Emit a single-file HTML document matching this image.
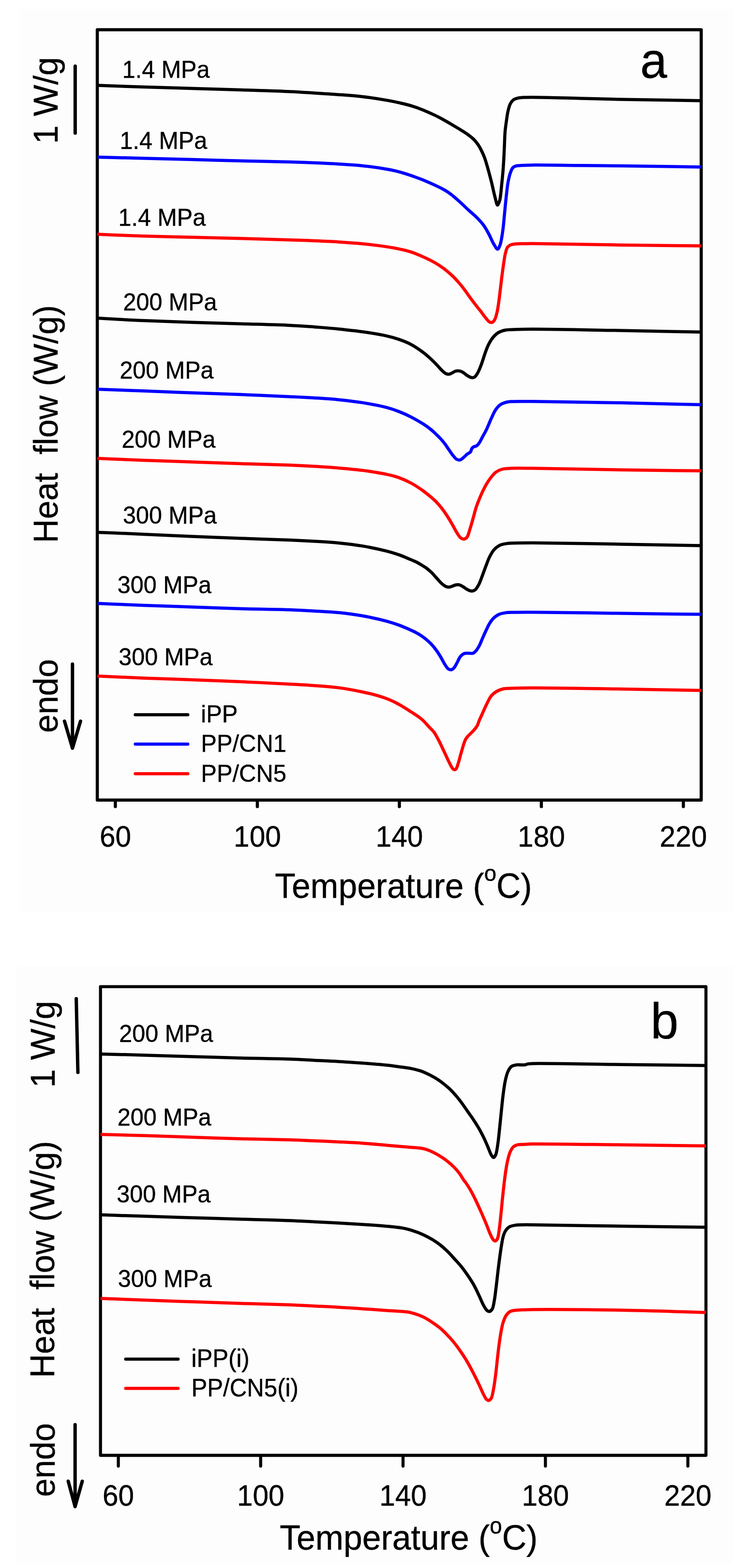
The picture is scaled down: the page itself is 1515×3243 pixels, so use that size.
<!DOCTYPE html>
<html><head><meta charset="utf-8"><title>DSC heating curves</title>
<style>html,body{margin:0;padding:0;background:#fff;}svg{display:block;}text{font-family:'Liberation Sans', Arial, Helvetica, sans-serif;fill:#000;stroke:#000;stroke-width:0.45px;}</style>
</head><body>
<svg width="1515" height="3243" viewBox="0 0 1515 3243">
<rect x="0" y="0" width="1515" height="3243" fill="#ffffff"/>
<rect x="41.5" y="18.7" width="1473.5" height="1866.3" fill="#fdfdfd"/>
<rect x="34.6" y="1999" width="1480.4" height="1235.3" fill="#fdfdfd"/>
<g fill="none" stroke="#000" stroke-width="6.5" stroke-linejoin="round" stroke-linecap="round"><rect x="201.1" y="61.6" width="1248.2" height="1593.2"/><line x1="238.4" y1="1658.1" x2="238.4" y2="1668.3"/><line x1="531.9" y1="1658.1" x2="531.9" y2="1668.3"/><line x1="825.4" y1="1658.1" x2="825.4" y2="1668.3"/><line x1="1118.9" y1="1658.1" x2="1118.9" y2="1668.3"/><line x1="1412.4" y1="1658.1" x2="1412.4" y2="1668.3"/></g>
<g fill="none" stroke="#000" stroke-width="6.3" stroke-linejoin="round" stroke-linecap="round"><rect x="207.7" y="2040.6" width="1251.4" height="969.4"/><line x1="244.6" y1="3013.3" x2="244.6" y2="3032.3"/><line x1="538.7" y1="3013.3" x2="538.7" y2="3032.3"/><line x1="833.0" y1="3013.3" x2="833.0" y2="3032.3"/><line x1="1127.3" y1="3013.3" x2="1127.3" y2="3032.3"/><line x1="1421.7" y1="3013.3" x2="1421.7" y2="3032.3"/></g>
<g fill="none" stroke-width="6.5" stroke-linejoin="round" stroke-linecap="butt">
<path stroke="#000" d="M201.1 176.5 C234.1 177.7 266.9 178.9 300.0 180.0 C333.2 181.1 366.7 182.0 400.0 183.0 C433.3 184.0 466.7 184.9 500.0 186.0 C533.3 187.1 572.4 188.2 600.0 189.5 C619.5 190.4 633.3 191.4 649.9 192.4 C666.5 193.4 683.2 194.4 699.8 195.7 C716.4 196.9 733.0 198.0 749.6 199.9 C766.3 201.9 785.8 205.0 799.5 207.4 C809.3 209.1 816.1 210.5 824.4 212.4 C832.7 214.3 841.1 216.1 849.4 218.6 C857.8 221.1 866.1 224.1 874.3 227.4 C882.4 230.7 890.9 234.6 898.3 238.2 C904.9 241.4 910.5 244.4 916.6 247.7 C922.7 251.1 928.8 254.7 934.9 258.3 C941.0 261.9 947.5 265.6 953.2 269.2 C958.4 272.4 963.4 275.5 967.8 278.8 C971.8 281.8 975.4 284.5 978.8 287.9 C982.1 291.2 985.2 295.0 987.9 298.9 C990.7 302.9 993.0 307.2 995.2 311.7 C997.5 316.3 999.6 320.9 1001.6 326.3 C1004.0 332.8 1006.1 340.5 1008.3 348.3 C1010.8 356.9 1013.2 366.3 1015.6 375.7 C1018.1 385.7 1020.5 398.0 1022.9 406.8 C1024.7 413.5 1026.5 424.1 1028.4 424.2 C1029.9 424.3 1031.7 418.5 1032.9 414.1 C1034.9 407.0 1035.5 394.5 1036.6 384.9 C1037.6 375.6 1038.5 366.6 1039.3 357.4 C1040.1 348.3 1040.7 338.9 1041.2 330.0 C1041.7 321.5 1042.0 313.9 1042.4 305.0 C1042.9 294.6 1043.1 281.4 1044.0 271.4 C1044.7 263.3 1045.8 256.6 1046.8 249.5 C1047.8 242.6 1048.6 235.5 1050.1 229.4 C1051.4 224.1 1052.6 218.7 1054.7 214.7 C1056.4 211.4 1058.5 208.5 1061.1 206.5 C1063.7 204.6 1067.0 203.7 1070.2 202.9 C1073.6 202.0 1077.0 201.9 1081.2 201.6 C1086.6 201.2 1091.3 201.2 1100.0 201.2 C1120.2 201.2 1168.6 202.8 1200.0 203.5 C1228.0 204.2 1248.0 204.8 1279.5 205.4 C1325.5 206.3 1392.7 207.3 1449.3 208.3"/>
<path stroke="#0000ff" d="M201.1 325.0 C234.1 325.8 266.9 326.7 300.0 327.5 C333.2 328.3 366.7 329.1 400.0 330.0 C433.3 330.9 466.7 332.0 500.0 332.8 C533.3 333.6 572.4 334.2 600.0 335.0 C619.5 335.5 633.3 336.0 649.9 336.7 C666.5 337.4 683.2 338.2 699.8 339.2 C716.4 340.2 733.0 341.1 749.6 342.9 C766.4 344.7 787.0 347.7 800.0 350.0 C808.2 351.4 813.4 352.6 820.0 354.2 C826.7 355.9 833.3 357.8 839.9 359.9 C846.6 362.0 853.3 364.3 859.9 366.7 C866.6 369.1 873.2 371.6 879.8 374.4 C886.5 377.2 893.4 380.3 899.8 383.4 C906.0 386.3 912.2 389.3 917.7 392.4 C922.7 395.2 926.6 397.7 931.4 401.3 C937.2 405.6 943.7 411.5 949.7 416.9 C955.9 422.4 961.9 428.5 968.0 434.2 C974.1 439.8 980.9 445.2 986.3 450.7 C991.1 455.6 995.2 460.0 999.1 465.3 C1003.2 470.9 1006.6 477.1 1010.1 483.6 C1013.9 490.5 1017.4 499.9 1021.0 505.6 C1023.5 509.6 1026.2 515.4 1028.4 515.3 C1030.5 515.2 1032.3 509.9 1033.9 505.6 C1036.4 498.6 1037.8 486.6 1039.3 476.3 C1040.9 464.8 1041.8 451.9 1043.0 439.7 C1044.2 427.5 1045.4 414.5 1046.7 403.2 C1047.8 393.4 1048.7 383.9 1050.3 375.7 C1051.6 368.9 1053.0 362.6 1054.9 357.4 C1056.4 353.3 1057.8 349.2 1060.0 346.8 C1061.7 345.0 1063.5 344.1 1066.0 343.3 C1069.6 342.1 1075.0 342.3 1080.0 342.0 C1085.9 341.6 1090.4 341.5 1099.3 341.4 C1119.6 341.2 1167.5 341.9 1199.0 342.2 C1227.3 342.5 1247.7 342.6 1279.5 343.0 C1325.7 343.6 1392.7 344.6 1449.3 345.4"/>
<path stroke="#ff0000" d="M201.1 484.6 C232.9 485.8 264.1 487.2 296.4 488.2 C329.7 489.2 364.0 489.9 397.8 490.7 C431.6 491.5 465.5 492.3 499.3 493.2 C532.9 494.1 572.3 495.3 600.0 496.2 C619.5 496.8 633.3 497.3 649.9 498.0 C666.5 498.7 683.2 499.4 699.8 500.4 C716.4 501.4 733.0 502.5 749.6 504.2 C766.2 505.9 785.8 508.3 799.5 510.4 C809.3 511.9 816.1 513.1 824.4 514.9 C832.8 516.7 841.2 518.4 849.4 521.1 C857.8 523.8 866.1 527.4 874.3 531.1 C882.4 534.7 891.0 538.8 898.3 543.0 C904.9 546.8 910.6 550.5 916.6 554.9 C922.9 559.6 929.3 565.1 934.9 570.4 C940.2 575.4 945.1 580.9 949.5 586.0 C953.5 590.6 956.9 594.9 960.5 599.7 C964.2 604.7 967.7 610.1 971.4 615.2 C975.0 620.2 978.7 625.0 982.4 629.8 C986.0 634.5 989.8 638.9 993.4 643.6 C997.1 648.4 1001.0 654.2 1004.4 658.2 C1007.0 661.2 1009.2 664.5 1011.7 665.8 C1013.5 666.8 1015.5 667.4 1017.2 666.8 C1019.2 666.1 1021.1 663.5 1022.6 660.9 C1024.7 657.3 1025.9 651.7 1027.2 646.3 C1028.8 639.8 1029.8 632.2 1030.9 624.4 C1032.2 615.4 1033.3 604.5 1034.5 595.1 C1035.6 586.3 1036.5 577.9 1037.6 569.5 C1038.6 561.4 1039.7 553.5 1040.9 545.7 C1042.0 538.2 1043.0 530.1 1044.6 523.8 C1045.9 518.9 1046.9 514.0 1049.2 511.0 C1050.9 508.7 1053.1 507.5 1055.6 506.4 C1058.3 505.2 1061.2 505.0 1064.7 504.6 C1069.4 504.1 1075.5 504.1 1081.2 504.0 C1087.3 503.9 1090.5 503.8 1100.0 503.8 C1129.3 503.9 1220.5 505.9 1279.5 506.7 C1336.9 507.5 1392.7 507.9 1449.3 508.5"/>
<path stroke="#000" d="M201.1 658.0 C232.9 659.7 264.1 661.7 296.4 663.1 C329.7 664.6 364.0 665.6 397.8 666.7 C431.6 667.8 465.5 668.7 499.3 669.7 C532.9 670.7 572.3 671.5 600.0 672.9 C619.5 673.9 633.3 675.0 649.9 676.2 C666.5 677.5 683.2 678.7 699.8 680.4 C716.4 682.1 733.0 683.8 749.6 686.2 C766.3 688.6 785.8 691.8 799.5 694.9 C809.3 697.1 816.2 699.0 824.4 701.9 C832.8 704.8 841.3 708.0 849.4 712.3 C857.9 716.8 867.0 723.1 874.3 728.6 C880.6 733.3 886.1 738.3 891.0 742.8 C895.1 746.6 898.3 750.0 901.9 753.7 C905.6 757.5 909.3 762.2 912.9 765.6 C916.0 768.5 919.1 771.6 922.1 772.9 C924.3 773.8 926.4 774.1 928.5 773.8 C930.7 773.5 932.7 772.1 934.9 771.1 C937.3 770.0 939.6 768.0 942.2 767.4 C944.8 766.8 947.9 766.9 950.4 767.4 C952.7 767.9 954.5 768.9 956.8 770.2 C959.7 771.8 962.8 775.0 966.0 776.9 C969.0 778.6 972.3 780.9 975.1 781.1 C977.4 781.3 979.6 780.7 981.5 779.3 C984.0 777.5 985.9 773.9 987.9 770.2 C990.5 765.4 992.9 759.0 995.2 752.8 C997.8 745.9 1000.0 737.8 1002.5 730.8 C1004.8 724.4 1006.9 718.1 1009.8 712.5 C1012.5 707.2 1015.5 702.1 1019.0 697.9 C1022.3 694.0 1025.8 690.4 1030.0 687.9 C1034.3 685.3 1039.4 683.8 1044.6 682.7 C1050.3 681.5 1055.7 681.8 1062.9 681.5 C1073.1 681.1 1083.0 680.8 1100.0 680.8 C1137.4 680.7 1220.5 682.5 1279.5 683.5 C1336.9 684.5 1392.7 685.7 1449.3 686.8"/>
<path stroke="#0000ff" d="M201.1 804.9 C232.9 806.1 264.1 807.3 296.4 808.5 C329.7 809.8 364.0 811.2 397.8 812.5 C431.6 813.8 465.5 814.8 499.3 816.1 C532.9 817.4 572.3 819.1 600.0 820.4 C619.5 821.3 633.3 821.9 649.9 822.9 C666.5 824.0 683.2 825.0 699.8 826.7 C716.4 828.4 733.0 830.2 749.6 832.9 C766.3 835.6 785.8 839.3 799.5 842.9 C809.3 845.5 816.2 847.9 824.4 851.1 C832.8 854.4 841.2 858.1 849.4 862.3 C857.8 866.6 866.9 871.9 874.3 876.6 C880.5 880.6 886.4 884.9 891.0 888.6 C894.6 891.5 897.0 893.9 900.1 896.8 C903.4 900.0 907.0 903.4 910.2 906.9 C913.4 910.4 916.4 914.0 919.3 917.8 C922.2 921.6 924.7 925.7 927.5 929.7 C930.5 933.9 933.7 938.9 936.7 942.5 C939.2 945.4 941.4 948.6 944.0 950.0 C946.0 951.1 948.5 951.6 950.4 951.3 C952.1 951.1 953.5 950.0 955.0 948.9 C956.8 947.6 958.7 945.7 960.5 944.0 C962.3 942.3 964.0 940.4 966.0 938.9 C968.0 937.4 970.9 936.7 972.4 934.8 C973.9 933.0 973.9 929.7 975.1 927.9 C976.1 926.3 977.3 925.2 978.8 924.2 C980.5 923.1 983.3 923.3 985.2 922.0 C987.3 920.6 988.9 918.5 990.6 916.0 C992.8 912.8 994.7 908.4 997.0 904.1 C999.8 898.9 1003.3 892.9 1006.2 886.8 C1009.4 880.2 1012.2 872.4 1015.3 865.7 C1018.3 859.3 1021.1 852.4 1024.5 847.4 C1027.3 843.3 1030.1 839.9 1033.6 837.4 C1036.9 835.0 1040.9 833.5 1044.6 832.4 C1048.2 831.3 1050.7 831.0 1055.6 830.6 C1065.4 829.8 1080.2 830.2 1100.0 830.3 C1139.7 830.5 1220.5 832.0 1279.5 833.1 C1336.9 834.2 1392.7 835.7 1449.3 837.0"/>
<path stroke="#ff0000" d="M201.1 947.9 C232.9 949.3 264.1 950.7 296.4 952.0 C329.7 953.3 364.0 954.3 397.8 955.5 C431.6 956.7 465.5 958.0 499.3 959.1 C532.9 960.2 572.3 960.9 600.0 962.0 C619.5 962.8 633.3 963.5 649.9 964.5 C666.5 965.5 683.2 966.5 699.8 967.9 C716.4 969.3 733.0 970.7 749.6 972.9 C766.3 975.1 785.8 978.2 799.5 981.2 C809.3 983.3 816.2 985.0 824.4 987.9 C832.8 990.9 841.2 994.6 849.4 999.0 C857.9 1003.6 866.9 1009.7 874.3 1015.0 C880.5 1019.5 886.1 1024.0 891.0 1028.2 C895.1 1031.7 898.4 1034.5 901.9 1038.2 C905.7 1042.1 909.3 1046.4 912.9 1051.0 C916.7 1055.9 920.3 1061.1 923.9 1066.6 C927.7 1072.4 931.5 1078.8 934.9 1084.8 C938.1 1090.4 940.9 1096.4 944.0 1101.3 C946.7 1105.5 949.3 1110.3 952.2 1112.5 C954.2 1114.1 956.5 1115.1 958.6 1115.0 C960.8 1114.8 963.2 1113.5 965.0 1111.4 C967.9 1108.0 969.4 1100.2 971.4 1094.0 C973.7 1087.1 975.7 1079.4 977.8 1072.0 C980.0 1064.5 981.8 1056.4 984.2 1049.2 C986.4 1042.5 988.9 1036.4 991.6 1030.0 C994.4 1023.3 997.3 1016.3 1000.7 1009.9 C1004.0 1003.6 1007.6 997.2 1011.7 991.6 C1015.6 986.2 1019.8 980.5 1024.5 976.9 C1028.5 973.8 1032.6 971.9 1037.3 970.5 C1042.3 969.0 1046.8 969.1 1053.7 968.7 C1065.2 968.0 1079.5 968.4 1100.0 968.5 C1140.3 968.8 1220.5 970.8 1279.5 971.7 C1336.9 972.6 1392.7 973.1 1449.3 973.8"/>
<path stroke="#000" d="M201.1 1100.9 C232.9 1102.2 264.1 1103.5 296.4 1104.9 C329.7 1106.4 364.0 1108.1 397.8 1109.5 C431.6 1110.9 465.5 1112.2 499.3 1113.5 C532.9 1114.7 572.3 1115.8 600.0 1117.0 C619.5 1117.8 633.3 1118.5 649.9 1119.5 C666.5 1120.5 683.2 1121.3 699.8 1122.9 C716.4 1124.6 733.0 1126.6 749.6 1129.4 C766.3 1132.2 785.8 1136.4 799.5 1139.9 C809.3 1142.4 816.6 1144.7 824.4 1147.4 C831.5 1149.9 838.0 1152.7 844.4 1155.4 C850.4 1157.9 856.6 1160.3 861.8 1163.0 C866.4 1165.4 870.9 1168.5 874.3 1170.5 C876.6 1171.9 877.9 1172.5 880.0 1174.0 C883.1 1176.3 887.4 1179.8 891.0 1183.2 C894.8 1186.8 898.3 1191.1 901.9 1195.0 C905.6 1199.0 909.2 1203.7 912.9 1206.9 C916.0 1209.6 919.2 1212.2 922.1 1213.3 C924.3 1214.2 926.4 1214.3 928.5 1214.2 C930.6 1214.1 932.7 1213.1 934.9 1212.4 C937.3 1211.6 939.7 1210.1 942.2 1209.7 C944.6 1209.3 947.1 1209.1 949.5 1209.7 C952.0 1210.3 954.3 1211.8 956.8 1213.3 C959.7 1215.0 962.8 1217.8 966.0 1219.4 C969.0 1220.9 972.2 1222.6 975.1 1222.5 C977.7 1222.5 980.2 1221.4 982.4 1219.7 C985.2 1217.4 987.5 1213.0 989.7 1208.8 C992.4 1203.6 994.6 1196.8 997.0 1190.5 C999.5 1184.0 1001.9 1176.9 1004.4 1170.4 C1006.8 1164.1 1008.9 1157.8 1011.7 1152.1 C1014.4 1146.8 1017.2 1141.5 1020.8 1137.4 C1024.0 1133.7 1027.8 1130.4 1031.8 1128.3 C1035.7 1126.2 1039.9 1125.4 1044.6 1124.6 C1050.1 1123.6 1055.7 1123.5 1062.9 1123.2 C1073.1 1122.8 1083.0 1122.8 1100.0 1122.8 C1137.4 1122.9 1220.5 1124.5 1279.5 1125.5 C1336.9 1126.4 1392.7 1127.5 1449.3 1128.5"/>
<path stroke="#0000ff" d="M201.1 1247.9 C232.9 1249.3 264.1 1250.7 296.4 1252.0 C329.7 1253.3 364.0 1254.3 397.8 1255.5 C431.6 1256.7 465.5 1258.1 499.3 1259.1 C532.9 1260.0 572.3 1260.2 600.0 1261.2 C619.5 1261.9 633.3 1262.7 649.9 1263.7 C666.5 1264.7 683.2 1265.3 699.8 1267.0 C716.4 1268.7 733.1 1270.7 749.6 1273.7 C766.3 1276.7 785.8 1281.2 799.5 1284.9 C809.3 1287.6 816.6 1290.1 824.4 1292.9 C831.5 1295.5 838.0 1298.3 844.4 1301.1 C850.4 1303.8 856.6 1306.4 861.8 1309.3 C866.4 1311.8 871.0 1314.9 874.3 1317.3 C876.6 1319.0 877.8 1320.0 880.0 1321.8 C883.1 1324.4 887.5 1328.1 891.0 1331.8 C894.8 1335.8 898.5 1340.4 901.9 1345.0 C905.2 1349.6 908.2 1354.4 911.1 1359.2 C914.0 1364.0 916.5 1369.6 919.3 1373.9 C921.7 1377.5 923.9 1381.7 926.6 1383.5 C928.6 1384.8 931.0 1385.6 933.0 1385.2 C935.0 1384.8 936.8 1383.1 938.5 1381.2 C940.8 1378.6 942.8 1374.0 944.9 1370.2 C947.1 1366.3 948.8 1361.5 951.3 1358.3 C953.4 1355.6 955.8 1353.1 958.6 1351.9 C961.3 1350.7 964.7 1351.2 967.8 1351.0 C971.1 1350.8 975.0 1352.0 977.8 1351.0 C980.4 1350.0 982.2 1347.8 984.2 1345.5 C986.5 1342.8 988.6 1339.2 990.6 1335.5 C992.9 1331.2 994.8 1325.8 997.0 1320.8 C999.4 1315.5 1001.9 1309.7 1004.4 1304.4 C1006.8 1299.3 1008.9 1294.2 1011.7 1289.7 C1014.4 1285.4 1017.3 1281.2 1020.8 1277.9 C1024.1 1274.8 1027.8 1272.3 1031.8 1270.5 C1035.8 1268.8 1039.9 1268.1 1044.6 1267.4 C1050.1 1266.6 1055.7 1266.7 1062.9 1266.5 C1073.1 1266.2 1083.0 1266.2 1100.0 1266.3 C1137.4 1266.4 1220.5 1267.8 1279.5 1268.5 C1336.9 1269.2 1392.7 1269.9 1449.3 1270.6"/>
<path stroke="#ff0000" d="M201.1 1398.3 C232.9 1399.7 264.1 1401.1 296.4 1402.4 C329.7 1403.7 364.0 1404.6 397.8 1405.9 C431.6 1407.2 465.5 1408.5 499.3 1410.0 C532.9 1411.5 572.3 1413.5 600.0 1415.0 C619.5 1416.1 633.3 1416.8 649.9 1418.0 C666.5 1419.2 683.2 1420.2 699.8 1422.4 C716.5 1424.6 735.1 1428.2 749.6 1431.2 C761.0 1433.6 770.6 1435.9 780.0 1438.6 C788.3 1441.0 795.6 1443.4 803.3 1446.5 C811.1 1449.7 818.9 1453.6 826.5 1457.8 C834.4 1462.2 842.3 1467.5 849.8 1472.4 C857.0 1477.2 864.5 1481.5 870.8 1486.9 C876.9 1492.0 882.3 1498.7 887.1 1503.8 C891.0 1507.9 894.7 1511.2 897.5 1515.0 C899.9 1518.3 901.4 1521.5 903.3 1524.9 C905.3 1528.4 907.2 1531.9 909.1 1535.7 C911.1 1539.7 913.0 1544.0 914.9 1548.2 C916.9 1552.4 918.8 1556.5 920.8 1560.7 C922.7 1564.9 924.7 1569.3 926.6 1573.2 C928.3 1576.7 930.0 1580.2 931.6 1583.1 C933.0 1585.6 934.3 1588.3 935.7 1589.8 C936.6 1590.8 937.5 1591.7 938.6 1591.9 C939.7 1592.1 941.3 1591.6 942.4 1590.6 C943.9 1589.2 944.7 1585.9 945.7 1583.1 C946.9 1579.9 947.9 1576.0 949.0 1572.3 C950.1 1568.3 951.2 1564.0 952.3 1559.9 C953.4 1555.9 954.6 1552.0 955.7 1548.2 C956.8 1544.5 957.8 1540.7 959.0 1537.4 C960.0 1534.4 961.0 1531.5 962.3 1529.1 C963.5 1526.9 964.9 1525.2 966.5 1523.3 C968.2 1521.3 970.4 1519.4 972.3 1517.5 C974.2 1515.5 976.3 1513.6 978.1 1511.6 C979.9 1509.7 981.6 1507.8 983.1 1505.8 C984.5 1503.9 985.7 1502.1 986.8 1500.0 C988.0 1497.7 988.5 1495.3 989.7 1492.3 C991.5 1487.8 994.4 1481.6 997.0 1475.8 C999.9 1469.4 1003.0 1462.0 1006.2 1455.7 C1009.1 1449.9 1011.6 1443.7 1015.3 1439.3 C1018.5 1435.4 1022.3 1432.5 1026.3 1430.1 C1030.2 1427.8 1034.6 1426.1 1039.1 1425.0 C1043.7 1423.9 1047.5 1424.0 1053.7 1423.7 C1064.8 1423.1 1079.5 1422.9 1100.0 1422.8 C1140.3 1422.7 1220.5 1424.1 1279.5 1425.0 C1336.9 1425.9 1392.7 1427.0 1449.3 1428.0"/>
<path stroke="#000" d="M207.7 2179.9 C238.9 2180.7 269.6 2181.5 301.4 2182.4 C334.5 2183.3 369.0 2184.5 402.8 2185.5 C436.6 2186.5 471.0 2187.7 504.3 2188.5 C536.7 2189.3 573.3 2189.6 600.0 2190.5 C619.3 2191.2 633.3 2192.2 649.9 2193.0 C666.5 2193.8 683.2 2194.4 699.8 2195.4 C716.4 2196.3 733.0 2197.5 749.6 2198.7 C766.2 2200.0 785.7 2201.4 799.5 2202.9 C809.2 2204.0 816.1 2205.0 824.4 2206.2 C832.7 2207.4 841.6 2208.3 849.4 2209.9 C856.4 2211.3 863.7 2213.1 869.3 2214.9 C873.5 2216.3 876.4 2217.7 880.0 2219.3 C883.7 2221.0 887.2 2222.7 891.0 2224.7 C895.1 2226.9 899.6 2229.4 903.8 2232.1 C908.1 2234.9 912.4 2237.9 916.6 2241.2 C920.9 2244.6 925.2 2248.2 929.4 2252.2 C933.8 2256.4 938.2 2261.3 942.2 2265.9 C946.1 2270.4 949.5 2274.6 953.2 2279.6 C957.4 2285.2 961.7 2291.8 966.0 2297.9 C970.3 2304.0 974.8 2310.1 978.8 2316.2 C982.7 2322.0 986.3 2327.7 989.7 2333.6 C993.0 2339.3 995.9 2344.9 998.9 2350.9 C1002.1 2357.3 1005.2 2364.6 1008.0 2371.1 C1010.6 2377.1 1012.8 2384.4 1015.3 2388.5 C1016.8 2391.0 1018.4 2394.0 1019.9 2394.0 C1021.4 2394.0 1023.2 2391.2 1024.5 2388.5 C1026.8 2383.6 1027.7 2374.0 1029.0 2365.6 C1030.5 2355.6 1031.5 2343.9 1032.7 2332.6 C1034.0 2320.7 1035.2 2307.9 1036.4 2296.1 C1037.6 2284.8 1038.6 2273.8 1040.0 2263.2 C1041.3 2253.1 1042.7 2242.5 1044.6 2233.9 C1046.2 2227.0 1047.6 2220.6 1050.1 2215.6 C1052.1 2211.5 1054.3 2207.7 1057.4 2205.5 C1060.4 2203.4 1064.3 2203.0 1068.4 2202.4 C1073.3 2201.7 1080.8 2203.0 1084.8 2202.4 C1087.2 2202.0 1088.2 2201.0 1090.3 2200.6 C1093.1 2200.0 1094.7 2199.9 1100.0 2199.7 C1122.9 2198.8 1223.9 2201.0 1284.6 2201.7 C1343.6 2202.4 1400.9 2203.1 1459.1 2203.8"/>
<path stroke="#ff0000" d="M207.7 2346.2 C238.9 2347.1 269.6 2347.8 301.4 2348.8 C334.5 2349.8 369.0 2351.2 402.8 2352.3 C436.6 2353.4 471.0 2354.5 504.3 2355.4 C536.7 2356.2 573.3 2356.7 600.0 2357.5 C619.3 2358.1 633.3 2358.8 649.9 2359.5 C666.5 2360.2 683.2 2360.9 699.8 2361.7 C716.4 2362.5 733.0 2363.2 749.6 2364.4 C766.2 2365.6 782.9 2367.3 799.5 2368.7 C816.1 2370.1 835.6 2371.6 849.4 2372.9 C859.1 2373.8 867.5 2374.1 874.3 2375.5 C879.2 2376.5 883.2 2378.1 886.8 2379.5 C889.7 2380.6 891.6 2381.4 894.6 2382.9 C898.8 2385.0 904.5 2388.1 909.3 2391.1 C914.2 2394.2 919.1 2397.4 923.9 2401.1 C928.9 2405.0 934.1 2409.6 938.5 2414.0 C942.6 2418.1 946.1 2422.3 949.5 2426.8 C952.8 2431.3 956.2 2437.6 958.6 2441.0 C960.0 2443.0 960.9 2443.5 962.3 2445.5 C964.7 2448.9 968.3 2454.4 971.4 2459.7 C975.0 2465.9 978.8 2473.4 982.4 2480.7 C986.2 2488.3 989.8 2496.4 993.4 2504.5 C997.1 2512.9 1001.0 2521.8 1004.4 2530.1 C1007.6 2537.9 1010.5 2546.6 1013.5 2552.9 C1015.7 2557.5 1017.7 2562.3 1019.9 2564.5 C1021.1 2565.8 1022.4 2566.9 1023.6 2566.7 C1025.1 2566.5 1026.9 2564.3 1028.1 2562.0 C1030.2 2558.0 1030.7 2550.2 1031.8 2542.9 C1033.2 2533.4 1034.3 2521.3 1035.5 2510.0 C1036.8 2498.1 1037.8 2485.3 1039.1 2473.4 C1040.3 2462.1 1041.5 2450.8 1042.8 2440.5 C1043.9 2431.4 1045.1 2422.7 1046.4 2414.9 C1047.5 2408.3 1048.6 2402.3 1050.1 2396.6 C1051.4 2391.4 1052.7 2386.2 1054.7 2381.9 C1056.5 2378.1 1058.4 2374.3 1061.1 2371.9 C1063.6 2369.7 1066.9 2368.5 1070.2 2367.7 C1073.6 2366.8 1077.0 2367.2 1081.2 2367.0 C1086.6 2366.7 1090.5 2366.2 1100.0 2366.0 C1129.8 2365.4 1223.9 2367.1 1284.6 2367.8 C1343.6 2368.4 1400.9 2369.2 1459.1 2369.9"/>
<path stroke="#000" d="M207.7 2512.6 C238.9 2513.6 269.5 2514.6 301.4 2515.6 C334.5 2516.6 369.0 2517.7 402.8 2518.7 C436.6 2519.7 471.0 2520.7 504.3 2521.7 C536.7 2522.7 573.3 2523.4 600.0 2524.5 C619.3 2525.3 633.3 2526.2 649.9 2527.0 C666.5 2527.8 683.2 2528.6 699.8 2529.5 C716.4 2530.4 733.0 2531.3 749.6 2532.4 C766.2 2533.5 784.7 2534.8 799.5 2536.2 C811.5 2537.3 822.8 2538.3 831.9 2539.9 C838.7 2541.1 843.1 2542.3 849.4 2544.2 C857.0 2546.6 866.5 2550.0 874.3 2553.5 C881.5 2556.8 888.5 2560.6 894.6 2564.3 C900.0 2567.6 904.5 2570.7 909.3 2574.4 C914.3 2578.3 919.1 2582.6 923.9 2587.2 C928.9 2592.0 933.7 2597.4 938.5 2602.7 C943.4 2608.1 948.6 2613.5 953.2 2619.2 C957.8 2624.8 961.8 2630.5 966.0 2636.6 C970.4 2643.0 974.9 2649.7 978.8 2656.7 C982.8 2663.7 986.3 2671.4 989.7 2678.6 C993.0 2685.4 995.8 2693.1 998.9 2698.7 C1001.3 2703.1 1003.7 2707.7 1006.2 2710.0 C1007.9 2711.5 1009.6 2712.7 1011.3 2712.5 C1013.3 2712.3 1015.6 2710.3 1017.2 2707.9 C1019.7 2704.0 1020.4 2696.4 1021.7 2689.6 C1023.3 2681.4 1024.2 2671.6 1025.4 2662.2 C1026.7 2652.2 1027.8 2641.3 1029.0 2631.1 C1030.2 2621.2 1031.4 2611.2 1032.7 2601.8 C1033.9 2593.0 1035.0 2584.4 1036.4 2576.2 C1037.7 2568.6 1038.8 2560.2 1040.9 2554.3 C1042.4 2549.9 1044.1 2546.3 1046.4 2543.3 C1048.5 2540.6 1050.8 2538.4 1053.7 2536.9 C1056.8 2535.3 1060.6 2534.7 1064.7 2534.1 C1069.6 2533.3 1075.5 2533.4 1081.2 2533.2 C1087.3 2533.0 1090.5 2533.1 1100.0 2533.2 C1129.8 2533.4 1223.9 2535.2 1284.6 2536.0 C1343.6 2536.8 1400.9 2537.5 1459.1 2538.2"/>
<path stroke="#ff0000" d="M207.7 2685.5 C238.9 2686.7 269.5 2687.8 301.4 2689.0 C334.5 2690.2 369.0 2691.4 402.8 2692.6 C436.6 2693.8 471.0 2695.0 504.3 2696.0 C536.7 2697.0 573.3 2697.7 600.0 2698.7 C619.3 2699.5 633.3 2700.4 649.9 2701.2 C666.5 2702.0 683.2 2702.7 699.8 2703.7 C716.4 2704.6 733.0 2705.8 749.6 2706.9 C766.2 2708.0 784.1 2709.3 799.5 2710.4 C812.9 2711.3 827.8 2711.9 836.9 2712.9 C842.2 2713.5 844.6 2713.7 849.4 2714.9 C856.3 2716.7 866.6 2720.0 874.3 2723.6 C881.6 2727.0 888.5 2731.6 894.6 2735.7 C900.0 2739.3 904.5 2742.6 909.3 2746.6 C914.3 2750.8 919.1 2755.5 923.9 2760.4 C928.9 2765.5 933.8 2770.9 938.5 2776.8 C943.5 2783.0 948.6 2790.1 953.2 2796.9 C957.7 2803.5 961.9 2809.9 966.0 2817.0 C970.4 2824.5 974.8 2833.0 978.8 2840.8 C982.6 2848.2 986.3 2855.6 989.7 2862.8 C993.0 2869.6 996.0 2877.2 998.9 2882.9 C1001.1 2887.2 1003.0 2891.7 1005.3 2894.0 C1006.7 2895.4 1008.3 2896.7 1009.8 2896.6 C1011.6 2896.4 1013.8 2894.4 1015.3 2892.0 C1017.7 2888.1 1018.5 2880.6 1019.9 2873.7 C1021.7 2864.7 1023.1 2853.1 1024.5 2842.6 C1025.9 2831.8 1026.9 2820.5 1028.1 2809.7 C1029.3 2799.2 1030.5 2788.3 1031.8 2778.6 C1033.0 2770.2 1034.1 2762.5 1035.5 2754.9 C1036.8 2747.9 1038.0 2740.8 1040.0 2734.7 C1041.8 2729.3 1043.8 2723.9 1046.4 2720.1 C1048.5 2717.0 1050.7 2714.5 1053.7 2712.8 C1056.8 2711.1 1060.6 2710.7 1064.7 2710.1 C1069.6 2709.4 1075.5 2709.4 1081.2 2709.1 C1087.3 2708.8 1090.5 2708.5 1100.0 2708.4 C1129.8 2708.0 1223.9 2708.8 1284.6 2709.8 C1343.6 2710.8 1400.9 2712.9 1459.1 2714.4"/>
</g>
<g stroke="#000" stroke-width="7" stroke-linecap="round" stroke-linejoin="round" fill="none">
<line x1="155.4" y1="136.7" x2="155.4" y2="275.3"/>
<line x1="157.6" y1="2065.5" x2="161.0" y2="2218.0"/>
<path d="M149.8 1373.5 L149.8 1545 M133.3 1491.5 L149.8 1547.5 L166.4 1491.5"/>
<path d="M155.2 2946.5 L155.2 3115 M141 3063.5 L155.2 3116 L170 3063.5"/>
</g>
<text transform="translate(252.8 161.3) scale(1 1.035)" font-size="48.5" text-anchor="start">1.4 MPa</text>
<text transform="translate(247.6 307.6) scale(1 1.035)" font-size="48.5" text-anchor="start">1.4 MPa</text>
<text transform="translate(244.6 467.2) scale(1 1.035)" font-size="48.5" text-anchor="start">1.4 MPa</text>
<text transform="translate(254.5 641.7) scale(1 1.035)" font-size="48.5" text-anchor="start">200 MPa</text>
<text transform="translate(247.4 782.8) scale(1 1.035)" font-size="48.5" text-anchor="start">200 MPa</text>
<text transform="translate(251.4 926.3) scale(1 1.035)" font-size="48.5" text-anchor="start">200 MPa</text>
<text transform="translate(254.0 1082.8) scale(1 1.035)" font-size="48.5" text-anchor="start">300 MPa</text>
<text transform="translate(242.8 1227.3) scale(1 1.035)" font-size="48.5" text-anchor="start">300 MPa</text>
<text transform="translate(245.3 1376.2) scale(1 1.035)" font-size="48.5" text-anchor="start">300 MPa</text>
<text transform="translate(246.3 2154.7) scale(1 1.035)" font-size="48.5" text-anchor="start">200 MPa</text>
<text transform="translate(242.7 2328.2) scale(1 1.035)" font-size="48.5" text-anchor="start">200 MPa</text>
<text transform="translate(241.2 2486.9) scale(1 1.035)" font-size="48.5" text-anchor="start">300 MPa</text>
<text transform="translate(243.7 2661.9) scale(1 1.035)" font-size="48.5" text-anchor="start">300 MPa</text>
<text transform="translate(238.4 1750.6) scale(1 1.035)" font-size="58.5" text-anchor="middle">60</text>
<text transform="translate(531.9 1750.6) scale(1 1.035)" font-size="58.5" text-anchor="middle">100</text>
<text transform="translate(825.4 1750.6) scale(1 1.035)" font-size="58.5" text-anchor="middle">140</text>
<text transform="translate(1118.9 1750.6) scale(1 1.035)" font-size="58.5" text-anchor="middle">180</text>
<text transform="translate(1412.4 1750.6) scale(1 1.035)" font-size="58.5" text-anchor="middle">220</text>
<text transform="translate(244.6 3114.2) scale(1 1.035)" font-size="58.5" text-anchor="middle">60</text>
<text transform="translate(538.7 3114.2) scale(1 1.035)" font-size="58.5" text-anchor="middle">100</text>
<text transform="translate(833.0 3114.2) scale(1 1.035)" font-size="58.5" text-anchor="middle">140</text>
<text transform="translate(1127.3 3114.2) scale(1 1.035)" font-size="58.5" text-anchor="middle">180</text>
<text transform="translate(1421.7 3114.2) scale(1 1.035)" font-size="58.5" text-anchor="middle">220</text>
<text transform="translate(568.2 1857.4) scale(1 1.035)" font-size="69.50">Temperature (<tspan font-size="45.5" dy="-34.3">o</tspan><tspan dy="34.3">C)</tspan></text>
<text transform="translate(578.2 3204.6) scale(1 1.035)" font-size="69.75">Temperature (<tspan font-size="45.7" dy="-31.9">o</tspan><tspan dy="31.9">C)</tspan></text>
<text transform="translate(118.6 297.5) rotate(-90) scale(1 1.035)" font-size="68.7">1 W/g</text>
<text transform="translate(118.6 1123.2) rotate(-90) scale(1 1.035)" font-size="68.7">Heat&#160; flow (W/g)</text>
<text transform="translate(118.6 1515.8) rotate(-90) scale(1 1.035)" font-size="68.7">endo</text>
<text transform="translate(112.5 2249.5) rotate(-90) scale(1 1.035)" font-size="68.7">1 W/g</text>
<text transform="translate(112.4 2849.8) rotate(-90) scale(1 1.035)" font-size="68.4">Heat&#160; flow (W/g)</text>
<text transform="translate(112.8 3096.0) rotate(-90) scale(1 1.035)" font-size="68.7">endo</text>
<text transform="translate(1323.2 161.2) scale(1 1.040)" font-size="100.0" text-anchor="start">a</text>
<text transform="translate(1344.4 2147.0) scale(1 1.000)" font-size="104.0" text-anchor="start">b</text>
<g stroke-width="6.5" stroke-linecap="round">
<line x1="279.6" y1="1478.2" x2="388.2" y2="1478.2" stroke="#000"/>
<line x1="279.6" y1="1538.9" x2="388.2" y2="1538.9" stroke="#0000ff"/>
<line x1="279.6" y1="1600.3" x2="388.2" y2="1600.3" stroke="#ff0000"/>
<line x1="259.8" y1="2810.9" x2="368.1" y2="2810.9" stroke="#000"/>
<line x1="259.8" y1="2871.4" x2="368.1" y2="2871.4" stroke="#ff0000"/>
</g>
<text transform="translate(415.3 1493.5) scale(1 1.035)" font-size="48.9" text-anchor="start">iPP</text>
<text transform="translate(415.3 1555.2) scale(1 1.035)" font-size="48.9" text-anchor="start">PP/CN1</text>
<text transform="translate(415.3 1616.5) scale(1 1.035)" font-size="48.9" text-anchor="start">PP/CN5</text>
<text transform="translate(395.5 2827.4) scale(1 1.035)" font-size="49.2" text-anchor="start">iPP(i)</text>
<text transform="translate(395.5 2887.9) scale(1 1.035)" font-size="49.2" text-anchor="start">PP/CN5(i)</text>
</svg>
</body></html>
